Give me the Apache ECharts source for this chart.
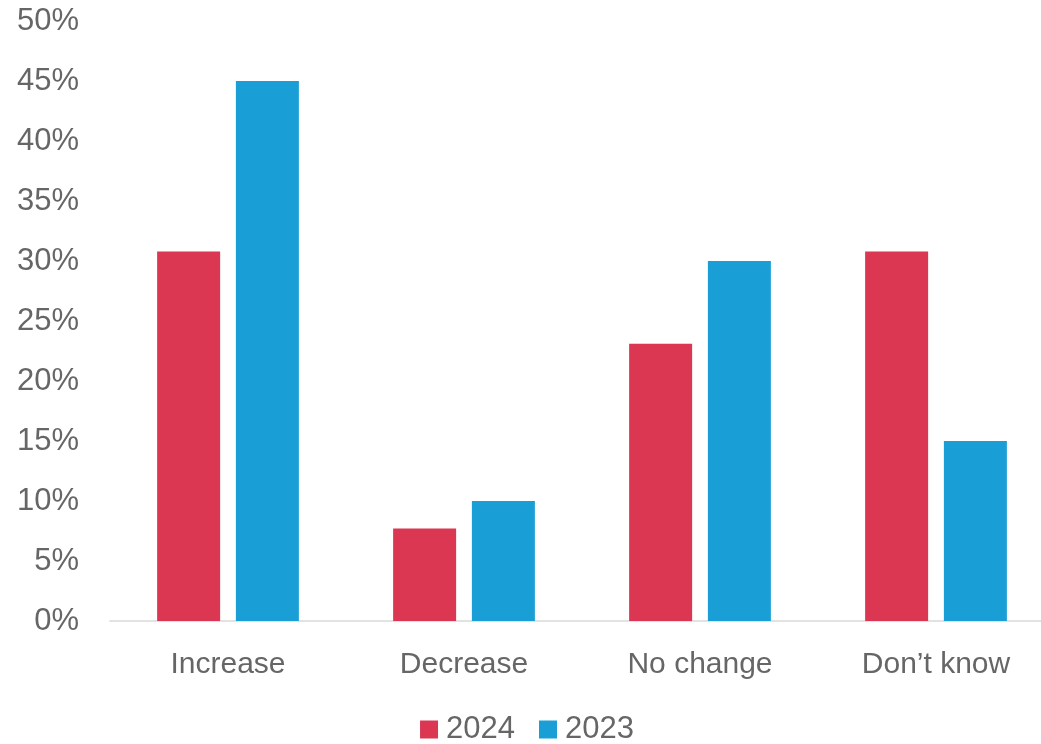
<!DOCTYPE html>
<html>
<head>
<meta charset="utf-8">
<script src="https://cdn.jsdelivr.net/npm/echarts@6/dist/echarts.min.js"></script>
<style>
  html, body { margin: 0; padding: 0; background: #ffffff; overflow: hidden; }
  /* the chart canvas runs slightly past the right edge of the page */
  #chart { width: 1054px; height: 744px; }
</style>
</head>
<body>
<div id="chart"></div>
<script>
// Survey responses by year (percent)
const categories = ['Increase', 'Decrease', 'No change', 'Don\u2019t know'];
const seriesNames = ['2024', '2023'];
const values2024 = [30.8, 7.7, 23.1, 30.8];
const values2023 = [45, 10, 30, 15];
const colors = ['#DB3652', '#199ED6'];

const textColor = '#666666';
const fontFamily = '"Liberation Sans", Arial, sans-serif';

const chart = echarts.init(document.getElementById('chart'), null, { renderer: 'canvas' });

chart.setOption({
  animation: false,
  color: colors,
  textStyle: { fontFamily: fontFamily },
  grid: { left: 110, top: 21, right: 0, bottom: 123, containLabel: false },
  legend: {
    data: seriesNames,
    bottom: -6,
    left: 'center',
    icon: 'rect',
    itemWidth: 18,
    itemHeight: 18,
    itemGap: 24,
    textStyle: { fontSize: 31, color: textColor, fontFamily: fontFamily, padding: [0, 0, 0, 3] }
  },
  xAxis: {
    type: 'category',
    data: categories,
    axisLine: { show: true, lineStyle: { color: '#d9d9d9', width: 1.5 } },
    axisTick: { show: false },
    axisLabel: { fontSize: 30, color: textColor, margin: 29, fontFamily: fontFamily }
  },
  yAxis: {
    type: 'value',
    min: 0,
    max: 50,
    interval: 5,
    splitLine: { show: false },
    axisLine: { show: false },
    axisTick: { show: false },
    axisLabel: {
      fontSize: 31,
      color: textColor,
      margin: 31,
      fontFamily: fontFamily,
      formatter: v => v + '%'
    }
  },
  series: [
    { name: seriesNames[0], type: 'bar', data: values2024, barWidth: 63, barGap: '25%' },
    { name: seriesNames[1], type: 'bar', data: values2023, barWidth: 63, barGap: '25%' }
  ]
});
</script>
</body>
</html>
